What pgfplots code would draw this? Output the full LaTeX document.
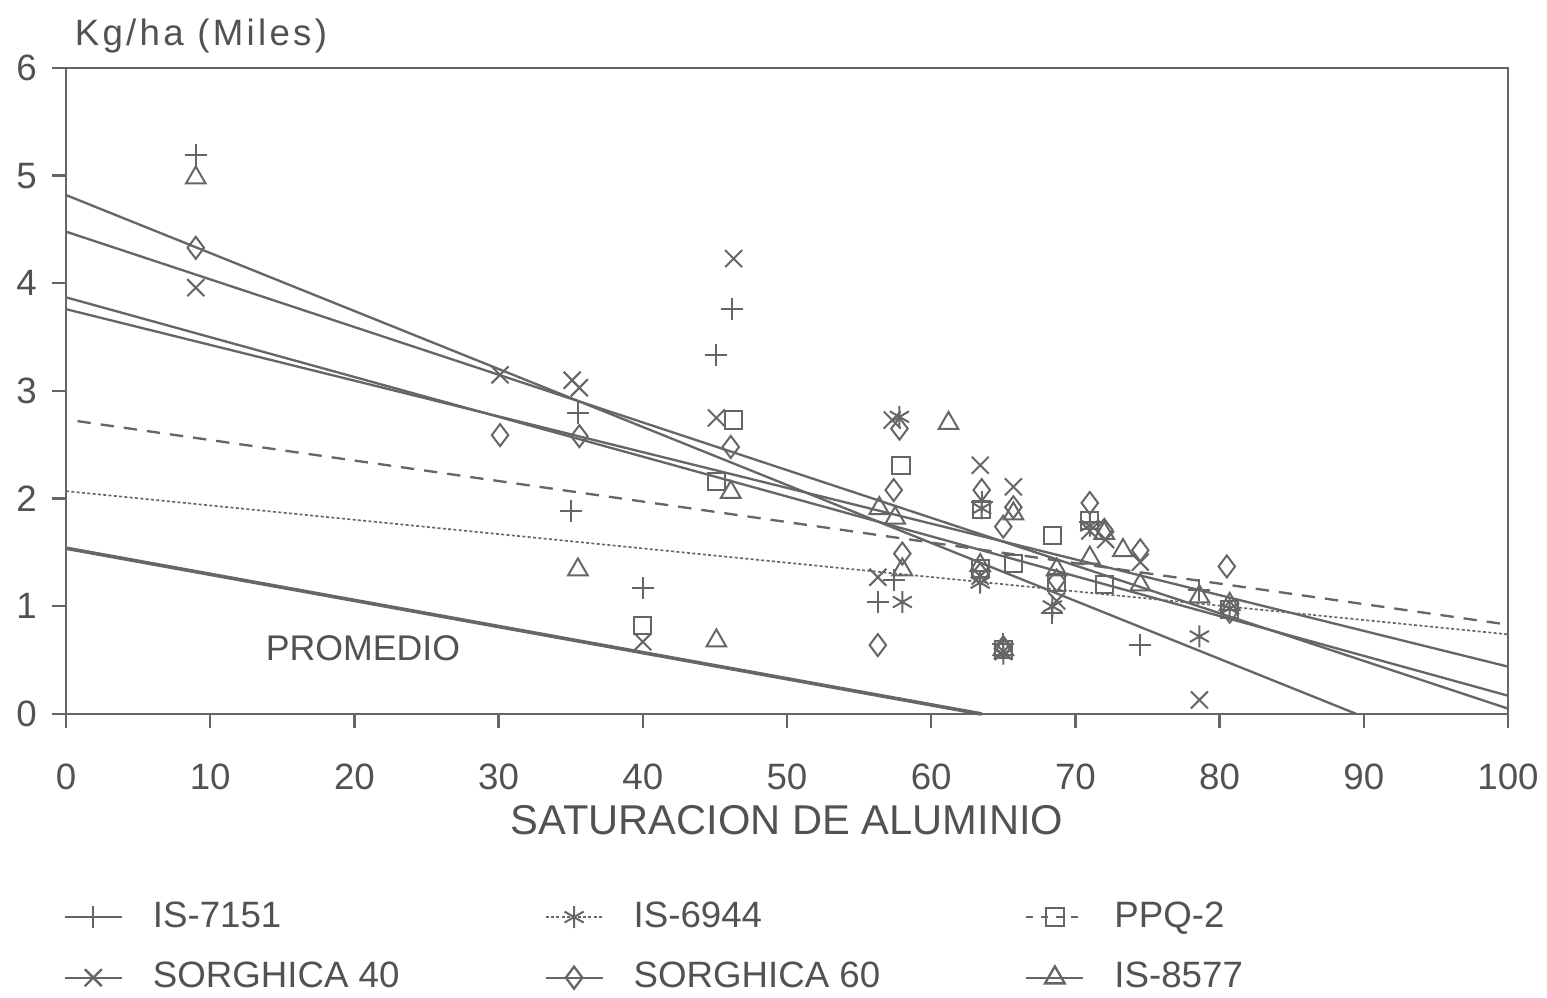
\documentclass[border=0pt]{standalone}
\usepackage{fontspec}
\setmainfont{Liberation Sans}
\newfontfamily\widefont[LetterSpace=9]{Liberation Sans}
\usepackage{pgfplots}
\pgfplotsset{compat=1.18}
\definecolor{ink}{gray}{0.40}
\definecolor{txt}{gray}{0.32}

\begin{document}
\begin{tikzpicture}
\begin{axis}[
  at={(0pt,0pt)}, anchor=south west,
  scale only axis, width=432.6pt, height=193.8pt,
  xmin=0, xmax=100, ymin=0, ymax=6,
  xtick={0,10,...,100}, ytick={0,1,...,6},
  tick align=outside, xtick pos=left, ytick pos=left,
  major tick length=4.2pt,
  axis line style={ink, line width=0.7pt},
  every tick/.style={ink, line width=0.7pt},
  tick label style={font=\fontsize{11}{13}\selectfont, text=txt},
  xticklabel style={yshift=-7.2pt},
  yticklabel style={xshift=-1pt},
  /pgf/number format/assume math mode=true,
  xlabel={SATURACION DE ALUMINIO},
  xlabel style={font=\fontsize{12.5}{15}\selectfont, text=txt,
    at={(axis description cs:0.5,0)}, anchor=center, yshift=-31.8pt},
  clip=false,
  legend columns=3,
  legend cell align=left,
  legend style={draw=none, fill=none,
    at={(axis description cs:-0.009,-0.269)}, anchor=north west,
    font=\fontsize{11}{13}\selectfont, text=txt,
    /tikz/every odd column/.append style={column sep=7pt},
    /tikz/every even column/.append style={column sep=41.5pt},
    row sep=5pt},
  every axis plot/.append style={ink, line width=0.7pt},
]
% legend keys
\addlegendimage{solid, mark=+, mark size=3.3pt}
\addlegendentry{IS-7151}
\addlegendimage{dash pattern=on 0.9pt off 0.7pt, line width=0.5pt, mark=asterisk, mark size=3.3pt, mark options={solid, line width=0.6pt}}
\addlegendentry{IS-6944}
\addlegendimage{dash pattern=on 2pt off 2.5pt, mark=square, mark size=2.6pt, mark options={solid, line width=0.6pt}}
\addlegendentry{PPQ-2}
\addlegendimage{solid, mark=x, mark size=3.6pt}
\addlegendentry{SORGHICA 40}
\addlegendimage{solid, mark=diamond, mark size=3.3pt}
\addlegendentry{SORGHICA 60}
\addlegendimage{solid, mark=triangle, mark size=3.4pt}
\addlegendentry{IS-8577}

% regression lines
\addplot[forget plot, solid] coordinates {(0,4.82) (89.5,0)};
\addplot[forget plot, solid] coordinates {(0,4.48) (100,0.05)};
\addplot[forget plot, solid] coordinates {(0,3.87) (100,0.17)};
\addplot[forget plot, solid] coordinates {(0,3.76) (100,0.44)};
\addplot[forget plot, dash pattern=on 4pt off 3pt] coordinates {(0.8,2.72) (100,0.83)};
\addplot[forget plot, dash pattern=on 0.9pt off 0.7pt, line width=0.5pt] coordinates {(0,2.07) (100,0.74)};
% promedio
\addplot[forget plot, solid, line width=1.1pt] coordinates {(0,1.54) (63.5,0)};

% IS-7151
\addplot[forget plot, only marks, mark=+, mark size=3.3pt, mark options={line width=0.6pt}] coordinates {
 (9,5.19) (35.5,2.80) (35.0,1.89) (40.0,1.17) (45.1,3.33) (46.2,3.76)
 (56.3,1.04) (57.4,1.24) (63.5,1.97) (65.0,0.65) (68.4,0.94) (71.0,1.78)
 (74.5,0.64) (78.6,1.15)};
% IS-6944
\addplot[forget plot, only marks, mark=asterisk, mark size=3.3pt, mark options={line width=0.6pt}] coordinates {
 (57.8,2.76) (58.0,1.04) (63.5,1.91) (63.4,1.22) (65.0,0.56) (68.4,1.00)
 (71.0,1.75) (78.6,0.72) (80.7,0.98)};
% PPQ-2
\addplot[forget plot, only marks, mark=square, mark size=2.6pt, mark options={line width=0.6pt}] coordinates {
 (40.0,0.82) (45.1,2.16) (46.3,2.73) (57.9,2.31) (63.5,1.90) (63.4,1.35)
 (65.7,1.40) (65.0,0.60) (68.4,1.66) (68.7,1.22) (71.0,1.80) (72.0,1.20)
 (80.7,0.97)};
% SORGHICA 40
\addplot[forget plot, only marks, mark=x, mark size=3.6pt, mark options={line width=0.6pt}] coordinates {
 (9,3.96) (30.1,3.15) (35.1,3.10) (35.6,3.03) (40.0,0.67) (45.1,2.75)
 (46.3,4.23) (57.3,2.73) (56.3,1.27) (63.4,2.31) (65.7,2.11) (63.4,1.28)
 (65.0,0.58) (68.7,1.05) (71.0,1.70) (72.1,1.62) (74.5,1.41) (78.6,0.13)};
% SORGHICA 60
\addplot[forget plot, only marks, mark=diamond, mark size=3.3pt, mark options={line width=0.6pt}] coordinates {
 (9,4.33) (30.1,2.59) (35.6,2.58) (46.1,2.48) (57.8,2.65) (57.4,2.08)
 (58.0,1.49) (56.3,0.64) (63.5,2.08) (65.7,1.92) (65.0,1.74) (63.4,1.30)
 (65.0,0.62) (68.7,1.24) (71.0,1.96) (72.0,1.71) (74.5,1.52) (80.5,1.37)
 (80.7,0.95)};
% IS-8577
\addplot[forget plot, only marks, mark=triangle, mark size=3.4pt, mark options={line width=0.6pt}] coordinates {
 (9,4.98) (35.5,1.34) (45.1,0.68) (46.1,2.06) (56.4,1.91) (57.5,1.82)
 (58.0,1.34) (61.2,2.70) (63.4,1.38) (65.7,1.86) (65.0,0.60) (68.7,1.34)
 (71.0,1.45) (72.0,1.68) (73.3,1.52) (74.5,1.20) (78.6,1.09) (80.7,1.02)};

\node[font=\fontsize{10.7}{12}\selectfont, text=txt] at (axis cs:20.6,0.61) {PROMEDIO};
\node[font=\widefont\fontsize{11}{13}\selectfont, text=txt] at (axis cs:9.36,6.30) {Kg/ha (Miles)};
\end{axis}
\pgfresetboundingbox
\path[use as bounding box] (-19.8pt,-85.2pt) rectangle (444.3pt,214.2pt);
\end{tikzpicture}
\end{document}
